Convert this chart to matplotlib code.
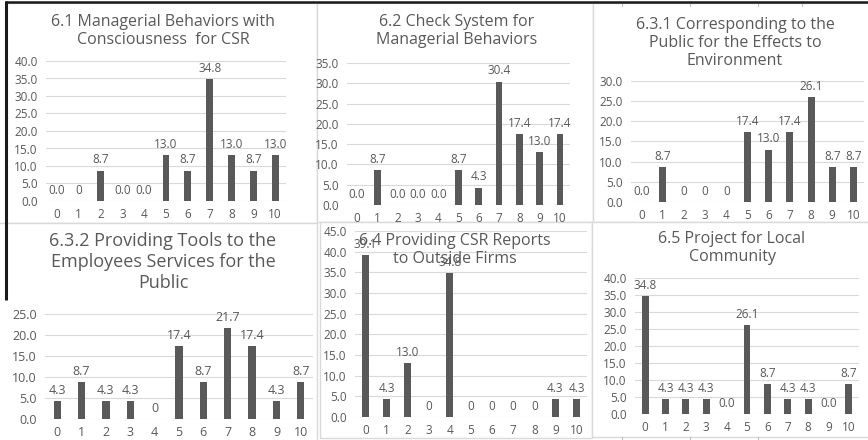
import matplotlib
matplotlib.use("Agg")
import matplotlib.pyplot as plt
from matplotlib.patches import Rectangle

W, H = 868, 440
TEXT = "#595959"
BAR = "#595959"
GRID = "#d9d9d9"

plt.rcParams["font.family"] = ["Open Sans", "DejaVu Sans"]

categories = list(range(11))

# percentages per score, kept as the label strings shown above the bars
title_61 = "6.1 Managerial Behaviors with\nConsciousness  for CSR"
vals_61 = ["0.0", "0", "8.7", "0.0", "0.0", "13.0", "8.7", "34.8", "13.0", "8.7", "13.0"]

title_62 = "6.2 Check System for\nManagerial Behaviors"
vals_62 = ["0.0", "8.7", "0.0", "0.0", "0.0", "8.7", "4.3", "30.4", "17.4", "13.0", "17.4"]

title_631 = "6.3.1 Corresponding to the\nPublic for the Effects to\nEnvironment"
vals_631 = ["0.0", "8.7", "0", "0", "0", "17.4", "13.0", "17.4", "26.1", "8.7", "8.7"]

title_632 = "6.3.2 Providing Tools to the\nEmployees Services for the\nPublic"
vals_632 = ["4.3", "8.7", "4.3", "4.3", "0", "17.4", "8.7", "21.7", "17.4", "4.3", "8.7"]

title_64 = "6.4 Providing CSR Reports\nto Outside Firms"
vals_64 = ["39.1", "4.3", "13.0", "0", "34.8", "0", "0", "0", "0", "4.3", "4.3"]

title_65 = "6.5 Project for Local\nCommunity"
vals_65 = ["34.8", "4.3", "4.3", "4.3", "0.0", "26.1", "8.7", "4.3", "4.3", "0.0", "8.7"]

y_max = [40, 35, 30, 25, 45, 40]


def rect(l, t, r, b):
    return [l / W, 1 - b / H, (r - l) / W, (b - t) / H]


fig = plt.figure(figsize=(W / 100, H / 100), dpi=100)

# sheet background: chart boxes and the cell frame
bg = fig.add_axes([0, 0, 1, 1])
bg.set_xlim(0, W)
bg.set_ylim(H, 0)
bg.axis("off")
boxes = [(6, 3, 317, 223), (317, 3, 593, 222), (593, 3, 870, 222),
         (-2, 223, 317, 442), (320, 222, 592, 438), (592, 222, 870, 437)]
for l, t, r, b in boxes:
    bg.add_patch(Rectangle((l, t), r - l, b - t, facecolor="white",
                           edgecolor=GRID, lw=1.0))
for x in (622, 690, 758, 802):
    bg.plot([x, x], [2, 6], color="#bfbfbf", lw=0.8)
for x in (622, 690, 758):
    bg.plot([x, x], [437, 440], color="#bfbfbf", lw=0.8)
bg.plot([5, W], [2, 2], color="#1a1a1a", lw=1.8, solid_capstyle="butt")
bg.plot([5.5, 5.5], [1, 300], color="#1a1a1a", lw=2.2, solid_capstyle="butt")

panels = [
    (title_61, vals_61, (46, 61, 286, 201), (163, 31), 11.5, 8.5, 0.32),
    (title_62, vals_62, (347, 63, 570, 205), (457, 31), 11.5, 8.5, 0.33),
    (title_631, vals_631, (631, 81, 864, 202), (735, 43), 11.5, 8.5, 0.33),
    (title_632, vals_632, (45, 314, 313, 419), (163, 262), 13.0, 9.0, 0.30),
    (title_64, vals_64, (355, 231, 587, 417), (455, 250), 11.5, 8.5, 0.33),
    (title_65, vals_65, (635, 278, 859, 414), (732, 248), 11.5, 8.5, 0.34),
]

for (title, labels, box, tpos, tsize, fsize, bw), top in zip(panels, y_max):
    values = [float(s) for s in labels]
    ax = fig.add_axes(rect(*box))
    ax.patch.set_alpha(0)
    ax.bar(categories, values, width=bw, color=BAR, zorder=2)
    for x, v, s in zip(categories, values, labels):
        ax.annotate(s, (x, v), xytext=(0, 3), textcoords="offset points",
                    ha="center", va="bottom", fontsize=fsize, color=TEXT)
    ax.set_xlim(-0.5, 10.5)
    ax.set_ylim(0, top)
    ax.set_yticks(range(0, top + 1, 5))
    ax.set_yticklabels([f"{t:.1f}" for t in range(0, top + 1, 5)])
    ax.set_xticks(categories)
    ax.grid(axis="y", color=GRID, lw=0.8, zorder=0)
    ax.set_axisbelow(True)
    for sp in ax.spines.values():
        sp.set_visible(False)
    ax.tick_params(length=0, labelsize=fsize, labelcolor=TEXT)
    ax.tick_params(axis="y", pad=6)
    ax.tick_params(axis="x", pad=5)
    fig.text(tpos[0] / W, 1 - tpos[1] / H, title, ha="center", va="center",
             fontsize=tsize, color=TEXT, linespacing=1.2, zorder=5)

fig.savefig("out.png", dpi=100)
